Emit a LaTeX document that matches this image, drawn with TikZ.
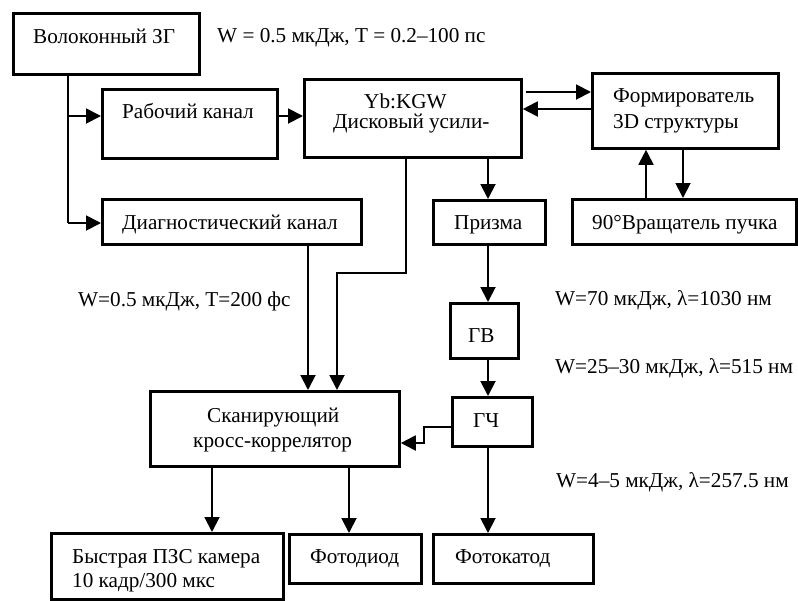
\documentclass[tikz,border=0pt]{standalone}
\usepackage{fontspec}
\setmainfont{Liberation Serif}
\usetikzlibrary{arrows.meta}
\begin{document}
\begin{tikzpicture}[x=1pt,y=-1pt,
  box/.style={draw, line width=2.8pt, rectangle, inner sep=0pt, anchor=north west},
  txt/.style={inner sep=0pt, anchor=base west, font=\fontsize{21.2}{24}\selectfont},
  ln/.style={line width=1.9pt},
  arr/.style={line width=1.9pt, -{Triangle[length=15pt,width=15pt]}}]
\useasboundingbox (0,0) rectangle (798,600);
% boxes
\node[box, minimum width=186pt, minimum height=61pt] (zg) at (12,12) {};
\node[box, minimum width=175pt, minimum height=69pt] (rab) at (101,88) {};
\node[box, minimum width=217pt, minimum height=78pt] (yb) at (303,78) {};
\node[box, minimum width=186pt, minimum height=75pt] (form) at (591,72) {};
\node[box, minimum width=259pt, minimum height=45pt] (diag) at (101,198) {};
\node[box, minimum width=112pt, minimum height=44pt] (prizma) at (432,199) {};
\node[box, minimum width=224pt, minimum height=45pt] (vrash) at (571,198) {};
\node[box, minimum width=249pt, minimum height=75pt] (scan) at (149,390) {};
\node[box, minimum width=68pt, minimum height=55pt] (gv) at (449,302) {};
\node[box, minimum width=80pt, minimum height=49pt] (gch) at (451,396) {};
\node[box, minimum width=160pt, minimum height=49pt] (fkat) at (432,533) {};
\node[box, minimum width=132pt, minimum height=49pt] (fdiod) at (288,533) {};
\node[box, minimum width=232pt, minimum height=66pt] (bystr) at (50,532) {};
% texts
\node[txt] (tzg) at (33,43) {Волоконный ЗГ};
\node[txt] (tw1) at (217,42) {W = 0.5 мкДж, T = 0.2–100 пс};
\node[txt] (trab) at (122,118) {Рабочий канал};
\node[txt] (tyb1) at (364,108) {Yb:KGW};
\node[txt] (tyb2) at (333,128) {Дисковый усили-};
\node[txt] (tf1) at (613,102) {Формирователь};
\node[txt] (tf2) at (613,128) {3D структуры};
\node[txt] (tdiag) at (122,229) {Диагностический канал};
\node[txt] (tpr) at (454,229) {Призма};
\node[txt] (tvr) at (592,229) {90°Вращатель пучка};
\node[txt] (tw2) at (78,306) {W=0.5 мкДж, T=200 фс};
\node[txt] (tw3) at (555,305) {W=70 мкДж, λ=1030 нм};
\node[txt] (tgv) at (468,342) {ГВ};
\node[txt] (tw4) at (555,373) {W=25–30 мкДж, λ=515 нм};
\node[txt] (tgch) at (473,427) {ГЧ};
\node[txt] (ts1) at (207,422) {Сканирующий};
\node[txt] (ts2) at (193,447) {кросс-коррелятор};
\node[txt] (tw5) at (556,487) {W=4–5 мкДж, λ=257.5 нм};
\node[txt] (tb1) at (72,563) {Быстрая ПЗС камера};
\node[txt] (tb2) at (72,587) {10 кадр/300 мкс};
\node[txt] (tfd) at (310,563) {Фотодиод};
\node[txt] (tfk) at (455,563) {Фотокатод};
% helper coordinates
\coordinate (bx) at (68,116);
\coordinate (dy) at (68,223);
\coordinate (f1) at (0,92);
\coordinate (f2) at (0,109);
\coordinate (px) at (488,0);
\coordinate (vu) at (646,0);
\coordinate (vd) at (683,0);
\coordinate (dx) at (308,0);
\coordinate (yx) at (406,0);
\coordinate (k) at (337,273);
\coordinate (g1) at (424,427);
\coordinate (g2) at (424,443);
\coordinate (sb) at (212,0);
\coordinate (sd) at (349,0);
% connectors
\draw[ln] (zg.south -| bx) -- (dy);
\draw[arr] (dy) -- (dy -| diag.west);
\draw[arr] (bx) -- (bx -| rab.west);
\draw[arr] (bx -| rab.east) -- (bx -| yb.west);
\draw[arr, shorten <=3pt] (f1 -| yb.east) -- (f1 -| form.west);
\draw[arr] (f2 -| form.west) -- (f2 -| yb.east);
\draw[arr] (yb.south -| px) -- (prizma.north -| px);
\draw[arr] (vrash.north -| vu) -- (form.south -| vu);
\draw[arr] (form.south -| vd) -- (vrash.north -| vd);
\draw[arr] (diag.south -| dx) -- (scan.north -| dx);
\draw[arr] (yb.south -| yx) |- (k) -- (k |- scan.north);
\draw[arr] (prizma.south -| px) -- (gv.north -| px);
\draw[arr] (gv.south -| px) -- (gch.north -| px);
\draw[arr] (g1 -| gch.west) -- (g1) -- (g2) -- (g2 -| scan.east);
\draw[arr] (gch.south -| px) -- (fkat.north -| px);
\draw[arr] (scan.south -| sb) -- (bystr.north -| sb);
\draw[arr] (scan.south -| sd) -- (fdiod.north -| sd);
\end{tikzpicture}
\end{document}
